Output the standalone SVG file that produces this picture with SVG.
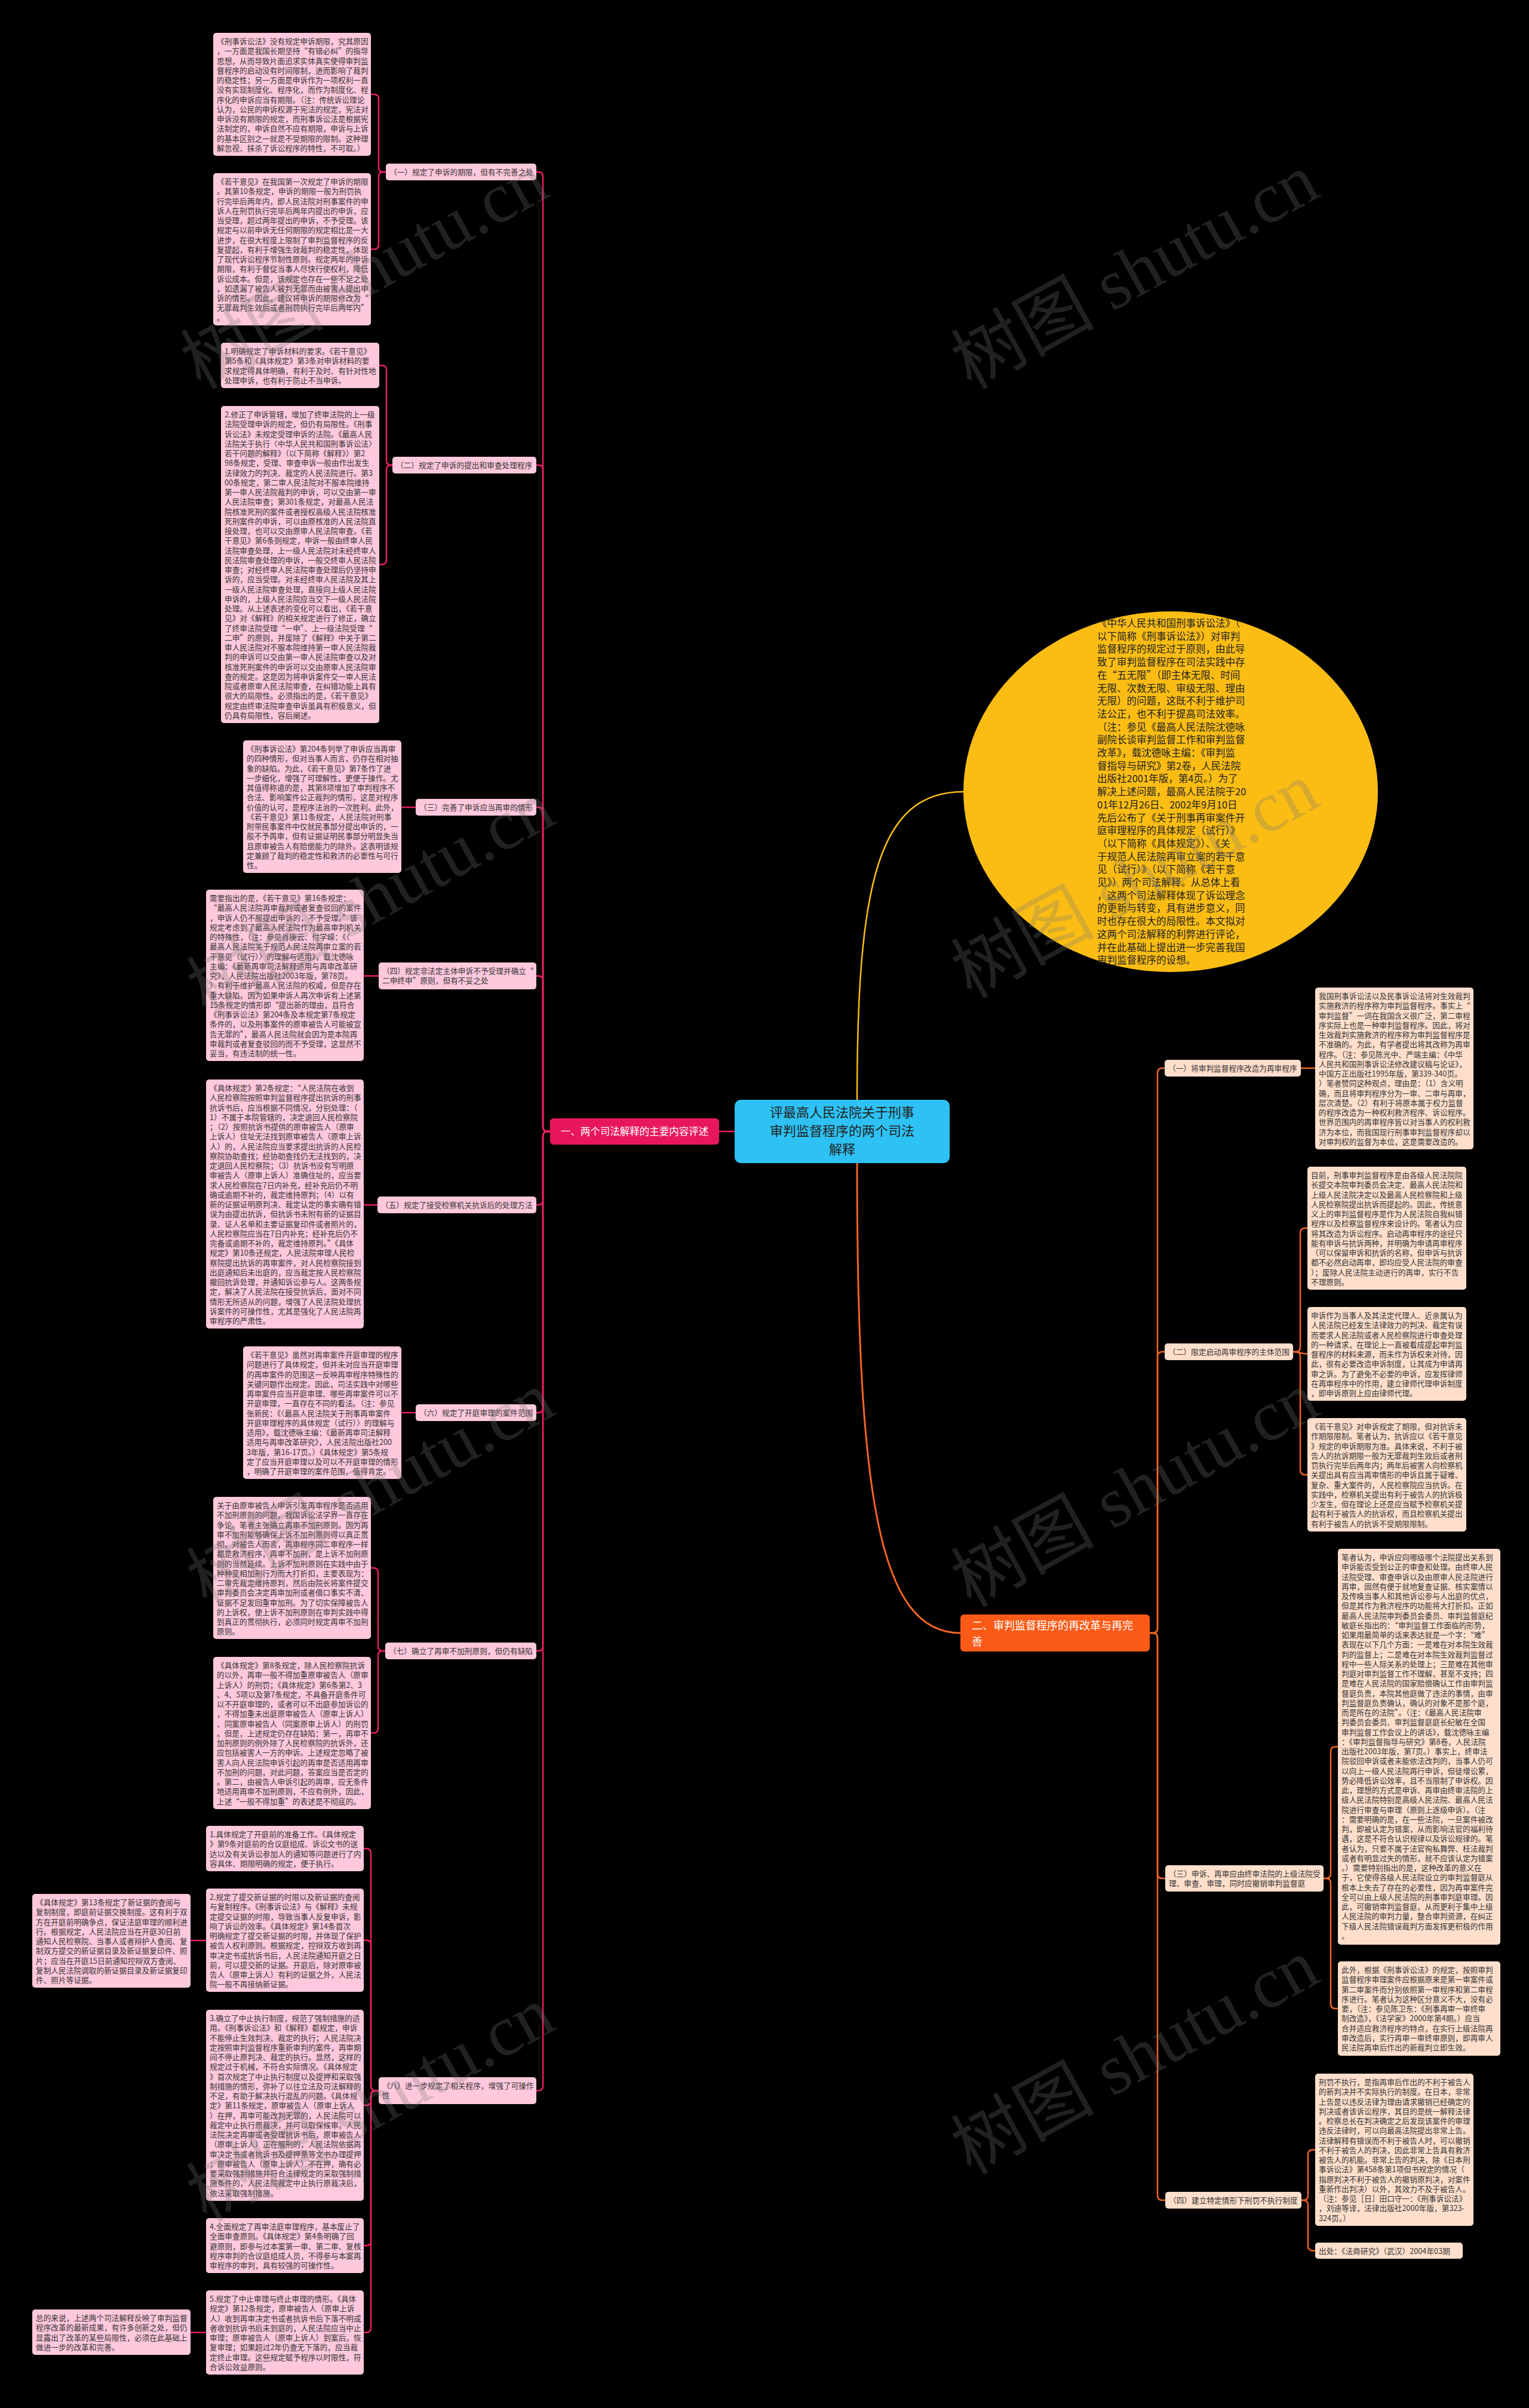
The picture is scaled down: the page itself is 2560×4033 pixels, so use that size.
<svg xmlns="http://www.w3.org/2000/svg" width="2560" height="4033" viewBox="0 0 2560 4033">
<style>
.t{font-family:"Noto Sans CJK SC","Liberation Sans",sans-serif;font-size:12.7px;fill:#333}
.pb{fill:#ffc8dd}
.ob{fill:#ffdfcc}
.pl{stroke:#e91e63;stroke-width:2.5;fill:none}
.ol{stroke:#f26522;stroke-width:2.5;fill:none}
.ct{font-family:"Noto Sans CJK SC","Liberation Sans",sans-serif;font-size:16.5px;fill:#222}
.wm{font-family:"Liberation Serif","Noto Sans CJK SC",serif;font-size:120px;fill:#777;fill-opacity:0.28}
</style>
<rect x="0" y="0" width="2560" height="4033" fill="#000"/>

<g id="connectors">
<path class="pl" d="M1204,1895 H1230"/>
<path d="M1435,1842 C1435,1480 1470,1326 1613,1326" stroke="#fbbd14" stroke-width="2.5" fill="none"/>
<path d="M1435,1948 C1435,2500 1470,2735 1608,2735" stroke="#f26522" stroke-width="3" fill="none"/>
<path class="pl" d="M921,1895 H917 Q909,1895 909,1887 V296 Q909,288 901,288 H898"/>
<path class="pl" d="M921,1895 H917 Q909,1895 909,1887 V787 Q909,779 901,779 H898"/>
<path class="pl" d="M921,1895 H917 Q909,1895 909,1887 V1360 Q909,1352 901,1352 H898"/>
<path class="pl" d="M921,1895 H917 Q909,1895 909,1887 V1642.5 Q909,1634.5 901,1634.5 H898"/>
<path class="pl" d="M921,1895 H917 Q909,1895 909,1903 V2010 Q909,2018 901,2018 H898"/>
<path class="pl" d="M921,1895 H917 Q909,1895 909,1903 V2358 Q909,2366 901,2366 H898"/>
<path class="pl" d="M921,1895 H917 Q909,1895 909,1903 V2757 Q909,2765 901,2765 H898"/>
<path class="pl" d="M921,1895 H917 Q909,1895 909,1903 V3493.5 Q909,3501.5 901,3501.5 H898"/>
<path class="pl" d="M646,288 H642 Q634,288 634,280 V166 Q634,158 626,158 H621"/>
<path class="pl" d="M646,288 H642 Q634,288 634,296 V409.5 Q634,417.5 626,417.5 H621"/>
<path class="pl" d="M657,779 H655 Q647,779 647,771 V620 Q647,612 639,612 H635"/>
<path class="pl" d="M657,779 H655 Q647,779 647,787 V937.5 Q647,945.5 639,945.5 H635"/>
<path class="pl" d="M696,1352 H672"/>
<path class="pl" d="M634,1634.5 H609"/>
<path class="pl" d="M632,2018 H609"/>
<path class="pl" d="M696,2366 H672"/>
<path class="pl" d="M645,2765 H641 Q633,2765 633,2757 V2634 Q633,2626 625,2626 H621"/>
<path class="pl" d="M645,2765 H641 Q633,2765 633,2773 V2894.5 Q633,2902.5 625,2902.5 H621"/>
<path class="pl" d="M634,3501.5 H629 Q621,3501.5 621,3493.5 V3104 Q621,3096 613,3096 H609"/>
<path class="pl" d="M634,3501.5 H629 Q621,3501.5 621,3493.5 V3257.5 Q621,3249.5 613,3249.5 H609"/>
<path class="pl" d="M634,3501.5 H629 Q621,3501.5 621,3509.5 V3518 Q621,3526 613,3526 H609"/>
<path class="pl" d="M634,3501.5 H629 Q621,3501.5 621,3509.5 V3753 Q621,3761 613,3761 H609"/>
<path class="pl" d="M634,3501.5 H629 Q621,3501.5 621,3509.5 V3898.5 Q621,3906.5 613,3906.5 H609"/>
<path class="pl" d="M345,3250 H319"/>
<path class="pl" d="M345,3906.5 H319"/>
<path class="ol" d="M1925,2735 H1930 Q1938,2735 1938,2727 V1797 Q1938,1789 1946,1789 H1950"/>
<path class="ol" d="M1925,2735 H1930 Q1938,2735 1938,2727 V2272 Q1938,2264 1946,2264 H1950"/>
<path class="ol" d="M1925,2735 H1930 Q1938,2735 1938,2743 V3138 Q1938,3146 1946,3146 H1951"/>
<path class="ol" d="M1925,2735 H1930 Q1938,2735 1938,2743 V3677 Q1938,3685 1946,3685 H1951"/>
<path class="ol" d="M2178,1789 H2202"/>
<path class="ol" d="M2165,2264 H2169 Q2177,2264 2177,2256 V2065 Q2177,2057 2185,2057 H2189"/>
<path class="ol" d="M2165,2264 C2177,2264 2177,2267.5 2189,2267.5"/>
<path class="ol" d="M2165,2264 H2169 Q2177,2264 2177,2272 V2462 Q2177,2470 2185,2470 H2189"/>
<path class="ol" d="M2216,3146 H2220 Q2228,3146 2228,3138 V2933.5 Q2228,2925.5 2236,2925.5 H2240"/>
<path class="ol" d="M2216,3146 H2220 Q2228,3146 2228,3154 V3356 Q2228,3364 2236,3364 H2240"/>
<path class="ol" d="M2179,3685 H2182 Q2190,3685 2190,3677 V3608.5 Q2190,3600.5 2198,3600.5 H2202"/>
<path class="ol" d="M2179,3685 H2182 Q2190,3685 2190,3693 V3761.5 Q2190,3769.5 2198,3769.5 H2202"/>
</g>

<g id="root">
<rect x="1230" y="1842" width="360" height="106" rx="10" fill="#2dc2f3"/>
<text font-family="Noto Sans CJK SC,Liberation Sans,sans-serif" font-size="22" fill="#222" text-anchor="middle"><tspan x="1410" y="1871">评最高人民法院关于刑事</tspan><tspan x="1410" y="1902">审判监督程序的两个司法</tspan><tspan x="1410" y="1933">解释</tspan></text>
</g>

<g id="summary">
<ellipse cx="1960" cy="1326" rx="347" ry="302" fill="#fbbd14"/>
<text class="ct"><tspan x="1837" y="1050">《中华人民共和国刑事诉讼法》（</tspan><tspan x="1837" dy="21.7">以下简称《刑事诉讼法》）对审判</tspan><tspan x="1837" dy="21.7">监督程序的规定过于原则，由此导</tspan><tspan x="1837" dy="21.7">致了审判监督程序在司法实践中存</tspan><tspan x="1837" dy="21.7">在“五无限”（即主体无限、时间</tspan><tspan x="1837" dy="21.7">无限、次数无限、审级无限、理由</tspan><tspan x="1837" dy="21.7">无限）的问题，这既不利于维护司</tspan><tspan x="1837" dy="21.7">法公正，也不利于提高司法效率。</tspan><tspan x="1837" dy="21.7">（注：参见《最高人民法院沈德咏</tspan><tspan x="1837" dy="21.7">副院长谈审判监督工作和审判监督</tspan><tspan x="1837" dy="21.7">改革》，载沈德咏主编：《审判监</tspan><tspan x="1837" dy="21.7">督指导与研究》第2卷，人民法院</tspan><tspan x="1837" dy="21.7">出版社2001年版，第4页。）为了</tspan><tspan x="1837" dy="21.7">解决上述问题，最高人民法院于20</tspan><tspan x="1837" dy="21.7">01年12月26日、2002年9月10日</tspan><tspan x="1837" dy="21.7">先后公布了《关于刑事再审案件开</tspan><tspan x="1837" dy="21.7">庭审理程序的具体规定（试行）》</tspan><tspan x="1837" dy="21.7">（以下简称《具体规定》）、《关</tspan><tspan x="1837" dy="21.7">于规范人民法院再审立案的若干意</tspan><tspan x="1837" dy="21.7">见（试行）》（以下简称《若干意</tspan><tspan x="1837" dy="21.7">见》）两个司法解释。从总体上看</tspan><tspan x="1837" dy="21.7">，这两个司法解释体现了诉讼理念</tspan><tspan x="1837" dy="21.7">的更新与转变，具有进步意义，同</tspan><tspan x="1837" dy="21.7">时也存在很大的局限性。本文拟对</tspan><tspan x="1837" dy="21.7">这两个司法解释的利弊进行评论，</tspan><tspan x="1837" dy="21.7">并在此基础上提出进一步完善我国</tspan><tspan x="1837" dy="21.7">审判监督程序的设想。</tspan></text>
</g>

<g id="branch1">
<rect x="921" y="1873" width="283" height="44" rx="6" fill="#e8175d"/>
<text font-family="Noto Sans CJK SC,Liberation Sans,sans-serif" font-size="16.5" fill="#fff" text-anchor="middle" x="1062.5" y="1901">一、两个司法解释的主要内容评述</text>
</g>

<g id="branch2">
<rect x="1608" y="2704" width="317" height="62" rx="6" fill="#fb5a17"/>
<text font-family="Noto Sans CJK SC,Liberation Sans,sans-serif" font-size="18" fill="#fff"><tspan x="1627" y="2729">二、审判监督程序的再改革与再完</tspan><tspan x="1627" y="2756">善</tspan></text>
</g>

<g id="l1"><rect class="pb" x="646" y="274" width="252" height="28" rx="5"/><text class="t" x="652" y="293">（一）规定了申诉的期限，但有不完善之处</text></g>
<g id="l2"><rect class="pb" x="657" y="765" width="241" height="28" rx="5"/><text class="t" x="663" y="784">（二）规定了申诉的提出和审查处理程序</text></g>
<g id="l3"><rect class="pb" x="696" y="1338" width="202" height="28" rx="5"/><text class="t" x="702" y="1357">（三）完善了申诉应当再审的情形</text></g>
<g id="l4"><rect class="pb" x="634" y="1612" width="264" height="45" rx="5"/><text class="t"><tspan x="640" y="1631">（四）规定非法定主体申诉不予受理并确立“</tspan><tspan x="640" dy="16.25">二申终申”原则，但有不妥之处</tspan></text></g>
<g id="l5"><rect class="pb" x="632" y="2004" width="266" height="28" rx="5"/><text class="t" x="638" y="2023">（五）规定了接受检察机关抗诉后的处理方法</text></g>
<g id="l6"><rect class="pb" x="696" y="2352" width="202" height="28" rx="5"/><text class="t" x="702" y="2371">（六）规定了开庭审理的案件范围</text></g>
<g id="l7"><rect class="pb" x="645" y="2751" width="253" height="28" rx="5"/><text class="t" x="651" y="2770">（七）确立了再审不加刑原则，但仍有缺陷</text></g>
<g id="l8"><rect class="pb" x="634" y="3479" width="264" height="45" rx="5"/><text class="t"><tspan x="640" y="3498">（八）进一步规定了相关程序，增强了可操作</tspan><tspan x="640" dy="16.25">性</tspan></text></g>

<g id="nA"><rect class="pb" x="357" y="55" width="264" height="206" rx="5"/><text class="t"><tspan x="363" y="74">《刑事诉讼法》没有规定申诉期限，究其原因</tspan><tspan x="363" dy="16.25">，一方面是我国长期坚持“有错必纠”的指导</tspan><tspan x="363" dy="16.25">思想，从而导致片面追求实体真实使得审判监</tspan><tspan x="363" dy="16.25">督程序的启动没有时间限制，进而影响了裁判</tspan><tspan x="363" dy="16.25">的稳定性；另一方面是申诉作为一项权利一直</tspan><tspan x="363" dy="16.25">没有实现制度化、程序化，而作为制度化、程</tspan><tspan x="363" dy="16.25">序化的申诉应当有期限。（注：传统诉讼理论</tspan><tspan x="363" dy="16.25">认为，公民的申诉权源于宪法的规定，宪法对</tspan><tspan x="363" dy="16.25">申诉没有期限的规定，而刑事诉讼法是根据宪</tspan><tspan x="363" dy="16.25">法制定的，申诉自然不应有期限，申诉与上诉</tspan><tspan x="363" dy="16.25">的基本区别之一就是不受期限的限制。这种理</tspan><tspan x="363" dy="16.25">解忽视、抹杀了诉讼程序的特性，不可取。）</tspan></text></g>

<g id="nB"><rect class="pb" x="357" y="290" width="264" height="255" rx="5"/><text class="t"><tspan x="363" y="309">《若干意见》在我国第一次规定了申诉的期限</tspan><tspan x="363" dy="16.25">。其第10条规定，申诉的期限一般为刑罚执</tspan><tspan x="363" dy="16.25">行完毕后两年内，即人民法院对刑事案件的申</tspan><tspan x="363" dy="16.25">诉人在刑罚执行完毕后两年内提出的申诉，应</tspan><tspan x="363" dy="16.25">当受理，超过两年提出的申诉，不予受理。该</tspan><tspan x="363" dy="16.25">规定与以前申诉无任何期限的规定相比是一大</tspan><tspan x="363" dy="16.25">进步，在很大程度上限制了审判监督程序的反</tspan><tspan x="363" dy="16.25">复提起，有利于增强生效裁判的稳定性，体现</tspan><tspan x="363" dy="16.25">了现代诉讼程序节制性原则。规定两年的申诉</tspan><tspan x="363" dy="16.25">期限，有利于督促当事人尽快行使权利，降低</tspan><tspan x="363" dy="16.25">诉讼成本。但是，该规定也存在一些不足之处</tspan><tspan x="363" dy="16.25">，如遗漏了被告人被判无罪而由被害人提出申</tspan><tspan x="363" dy="16.25">诉的情形。因此，建议将申诉的期限修改为“</tspan><tspan x="363" dy="16.25">无罪裁判生效后或者刑罚执行完毕后两年内”</tspan><tspan x="363" dy="16.25">。</tspan></text></g>

<g id="nC"><rect class="pb" x="370" y="574" width="265" height="76" rx="5"/><text class="t"><tspan x="376" y="593">1.明确规定了申诉材料的要求。《若干意见》</tspan><tspan x="376" dy="16.25">第5条和《具体规定》第3条对申诉材料的要</tspan><tspan x="376" dy="16.25">求规定得具体明确，有利于及时、有针对性地</tspan><tspan x="376" dy="16.25">处理申诉，也有利于防止不当申诉。</tspan></text></g>

<g id="nD"><rect class="pb" x="370" y="680" width="265" height="531" rx="5"/><text class="t"><tspan x="376" y="699">2.修正了申诉管辖，增加了终审法院的上一级</tspan><tspan x="376" dy="16.25">法院受理申诉的规定，但仍有局限性。《刑事</tspan><tspan x="376" dy="16.25">诉讼法》未规定受理申诉的法院。《最高人民</tspan><tspan x="376" dy="16.25">法院关于执行〈中华人民共和国刑事诉讼法〉</tspan><tspan x="376" dy="16.25">若干问题的解释》（以下简称《解释》）第2</tspan><tspan x="376" dy="16.25">98条规定，受理、审查申诉一般由作出发生</tspan><tspan x="376" dy="16.25">法律效力的判决、裁定的人民法院进行。第3</tspan><tspan x="376" dy="16.25">00条规定，第二审人民法院对不服本院维持</tspan><tspan x="376" dy="16.25">第一审人民法院裁判的申诉，可以交由第一审</tspan><tspan x="376" dy="16.25">人民法院审查；第301条规定，对最高人民法</tspan><tspan x="376" dy="16.25">院核准死刑的案件或者授权高级人民法院核准</tspan><tspan x="376" dy="16.25">死刑案件的申诉，可以由原核准的人民法院直</tspan><tspan x="376" dy="16.25">接处理，也可以交由原审人民法院审查。《若</tspan><tspan x="376" dy="16.25">干意见》第6条则规定，申诉一般由终审人民</tspan><tspan x="376" dy="16.25">法院审查处理，上一级人民法院对未经终审人</tspan><tspan x="376" dy="16.25">民法院审查处理的申诉，一般交终审人民法院</tspan><tspan x="376" dy="16.25">审查；对经终审人民法院审查处理后仍坚持申</tspan><tspan x="376" dy="16.25">诉的，应当受理。对未经终审人民法院及其上</tspan><tspan x="376" dy="16.25">一级人民法院审查处理，直接向上级人民法院</tspan><tspan x="376" dy="16.25">申诉的，上级人民法院应当交下一级人民法院</tspan><tspan x="376" dy="16.25">处理。从上述表述的变化可以看出，《若干意</tspan><tspan x="376" dy="16.25">见》对《解释》的相关规定进行了修正，确立</tspan><tspan x="376" dy="16.25">了终审法院受理“一申”、上一级法院受理“</tspan><tspan x="376" dy="16.25">二申”的原则，并废除了《解释》中关于第二</tspan><tspan x="376" dy="16.25">审人民法院对不服本院维持第一审人民法院裁</tspan><tspan x="376" dy="16.25">判的申诉可以交由第一审人民法院审查以及对</tspan><tspan x="376" dy="16.25">核准死刑案件的申诉可以交由原审人民法院审</tspan><tspan x="376" dy="16.25">查的规定。这是因为将申诉案件交一审人民法</tspan><tspan x="376" dy="16.25">院或者原审人民法院审查，在纠错功能上具有</tspan><tspan x="376" dy="16.25">很大的局限性。必须指出的是，《若干意见》</tspan><tspan x="376" dy="16.25">规定由终审法院审查申诉虽具有积极意义，但</tspan><tspan x="376" dy="16.25">仍具有局限性，容后阐述。</tspan></text></g>

<g id="nE"><rect class="pb" x="407" y="1240" width="265" height="222" rx="5"/><text class="t"><tspan x="413" y="1259">《刑事诉讼法》第204条列举了申诉应当再审</tspan><tspan x="413" dy="16.25">的四种情形，但对当事人而言，仍存在相对抽</tspan><tspan x="413" dy="16.25">象的缺陷。为此，《若干意见》第7条作了进</tspan><tspan x="413" dy="16.25">一步细化，增强了可理解性，更便于操作。尤</tspan><tspan x="413" dy="16.25">其值得称道的是，其第8项增加了审判程序不</tspan><tspan x="413" dy="16.25">合法、影响案件公正裁判的情形，这是对程序</tspan><tspan x="413" dy="16.25">价值的认可，是程序法治的一次胜利。此外，</tspan><tspan x="413" dy="16.25">《若干意见》第11条规定，人民法院对刑事</tspan><tspan x="413" dy="16.25">附带民事案件中仅就民事部分提出申诉的，一</tspan><tspan x="413" dy="16.25">般不予再审，但有证据证明民事部分明显失当</tspan><tspan x="413" dy="16.25">且原审被告人有赔偿能力的除外。这表明该规</tspan><tspan x="413" dy="16.25">定兼顾了裁判的稳定性和救济的必要性与可行</tspan><tspan x="413" dy="16.25">性。</tspan></text></g>

<g id="nF"><rect class="pb" x="345" y="1490" width="264" height="287" rx="5"/><text class="t"><tspan x="351" y="1509">需要指出的是，《若干意见》第16条规定：</tspan><tspan x="351" dy="16.25">“最高人民法院再审裁判或者复查驳回的案件</tspan><tspan x="351" dy="16.25">，申诉人仍不服提出申诉的，不予受理。”该</tspan><tspan x="351" dy="16.25">规定考虑到了最高人民法院作为最高审判机关</tspan><tspan x="351" dy="16.25">的特殊性，（注：参见肖庚云、付学嵘：《〈</tspan><tspan x="351" dy="16.25">最高人民法院关于规范人民法院再审立案的若</tspan><tspan x="351" dy="16.25">干意见（试行）〉的理解与适用》，载沈德咏</tspan><tspan x="351" dy="16.25">主编：《最新再审司法解释适用与再审改革研</tspan><tspan x="351" dy="16.25">究》，人民法院出版社2003年版，第78页。</tspan><tspan x="351" dy="16.25">）有利于维护最高人民法院的权威，但是存在</tspan><tspan x="351" dy="16.25">重大缺陷。因为如果申诉人再次申诉有上述第</tspan><tspan x="351" dy="16.25">15条规定的情形即“提出新的理由，且符合</tspan><tspan x="351" dy="16.25">《刑事诉讼法》第204条及本规定第7条规定</tspan><tspan x="351" dy="16.25">条件的，以及刑事案件的原审被告人可能被宣</tspan><tspan x="351" dy="16.25">告无罪的”，最高人民法院就会因为是本院再</tspan><tspan x="351" dy="16.25">审裁判或者复查驳回的而不予受理，这显然不</tspan><tspan x="351" dy="16.25">妥当，有违法制的统一性。</tspan></text></g>

<g id="nG"><rect class="pb" x="345" y="1808" width="264" height="417" rx="5"/><text class="t"><tspan x="351" y="1827">《具体规定》第2条规定：“人民法院在收到</tspan><tspan x="351" dy="16.25">人民检察院按照审判监督程序提出抗诉的刑事</tspan><tspan x="351" dy="16.25">抗诉书后，应当根据不同情况，分别处理：（</tspan><tspan x="351" dy="16.25">1）不属于本院管辖的，决定退回人民检察院</tspan><tspan x="351" dy="16.25">；（2）按照抗诉书提供的原审被告人（原审</tspan><tspan x="351" dy="16.25">上诉人）住址无法找到原审被告人（原审上诉</tspan><tspan x="351" dy="16.25">人）的，人民法院应当要求提出抗诉的人民检</tspan><tspan x="351" dy="16.25">察院协助查找；经协助查找仍无法找到的，决</tspan><tspan x="351" dy="16.25">定退回人民检察院；（3）抗诉书没有写明原</tspan><tspan x="351" dy="16.25">审被告人（原审上诉人）准确住址的，应当要</tspan><tspan x="351" dy="16.25">求人民检察院在7日内补充，经补充后仍不明</tspan><tspan x="351" dy="16.25">确或逾期不补的，裁定维持原判；（4）以有</tspan><tspan x="351" dy="16.25">新的证据证明原判决、裁定认定的事实确有错</tspan><tspan x="351" dy="16.25">误为由提出抗诉，但抗诉书未附有新的证据目</tspan><tspan x="351" dy="16.25">录、证人名单和主要证据复印件或者照片的，</tspan><tspan x="351" dy="16.25">人民检察院应当在7日内补充；经补充后仍不</tspan><tspan x="351" dy="16.25">完备或逾期不补的，裁定维持原判。”《具体</tspan><tspan x="351" dy="16.25">规定》第10条还规定，人民法院审理人民检</tspan><tspan x="351" dy="16.25">察院提出抗诉的再审案件，对人民检察院接到</tspan><tspan x="351" dy="16.25">出庭通知后未出庭的，应当裁定按人民检察院</tspan><tspan x="351" dy="16.25">撤回抗诉处理，并通知诉讼参与人。这两条规</tspan><tspan x="351" dy="16.25">定，解决了人民法院在接受抗诉后，面对不同</tspan><tspan x="351" dy="16.25">情形无所适从的问题，增强了人民法院处理抗</tspan><tspan x="351" dy="16.25">诉案件的可操作性，尤其是强化了人民法院再</tspan><tspan x="351" dy="16.25">审程序的严肃性。</tspan></text></g>

<g id="nH"><rect class="pb" x="407" y="2255" width="265" height="222" rx="5"/><text class="t"><tspan x="413" y="2274">《若干意见》虽然对再审案件开庭审理的程序</tspan><tspan x="413" dy="16.25">问题进行了具体规定，但并未对应当开庭审理</tspan><tspan x="413" dy="16.25">的再审案件的范围这一反映再审程序特殊性的</tspan><tspan x="413" dy="16.25">关键问题作出规定。因此，司法实践中对哪些</tspan><tspan x="413" dy="16.25">再审案件应当开庭审理、哪些再审案件可以不</tspan><tspan x="413" dy="16.25">开庭审理，一直存在不同的看法。（注：参见</tspan><tspan x="413" dy="16.25">张新民：《〈最高人民法院关于刑事再审案件</tspan><tspan x="413" dy="16.25">开庭审理程序的具体规定（试行）〉的理解与</tspan><tspan x="413" dy="16.25">适用》，载沈德咏主编：《最新再审司法解释</tspan><tspan x="413" dy="16.25">适用与再审改革研究》，人民法院出版社200</tspan><tspan x="413" dy="16.25">3年版，第16-17页。）《具体规定》第5条规</tspan><tspan x="413" dy="16.25">定了应当开庭审理以及可以不开庭审理的情形</tspan><tspan x="413" dy="16.25">，明确了开庭审理的案件范围，值得肯定。</tspan></text></g>

<g id="nI"><rect class="pb" x="357" y="2507" width="264" height="238" rx="5"/><text class="t"><tspan x="363" y="2526">关于由原审被告人申诉引发再审程序是否适用</tspan><tspan x="363" dy="16.25">不加刑原则的问题，我国诉讼法学界一直存在</tspan><tspan x="363" dy="16.25">争论。笔者主张确立再审不加刑原则。因为再</tspan><tspan x="363" dy="16.25">审不加刑能够确保上诉不加刑原则得以真正贯</tspan><tspan x="363" dy="16.25">彻。对被告人而言，再审程序同二审程序一样</tspan><tspan x="363" dy="16.25">都是救济程序，再审不加刑，是上诉不加刑原</tspan><tspan x="363" dy="16.25">则的当然延续。上诉不加刑原则在实践中由于</tspan><tspan x="363" dy="16.25">种种变相加刑行为而大打折扣，主要表现为：</tspan><tspan x="363" dy="16.25">二审先裁定维持原判，然后由院长将案件提交</tspan><tspan x="363" dy="16.25">审判委员会决定再审加刑或者借口事实不清、</tspan><tspan x="363" dy="16.25">证据不足发回重审加刑。为了切实保障被告人</tspan><tspan x="363" dy="16.25">的上诉权，使上诉不加刑原则在审判实践中得</tspan><tspan x="363" dy="16.25">到真正的贯彻执行，必须同时规定再审不加刑</tspan><tspan x="363" dy="16.25">原则。</tspan></text></g>

<g id="nJ"><rect class="pb" x="357" y="2775" width="264" height="255" rx="5"/><text class="t"><tspan x="363" y="2794">《具体规定》第8条规定，除人民检察院抗诉</tspan><tspan x="363" dy="16.25">的以外，再审一般不得加重原审被告人（原审</tspan><tspan x="363" dy="16.25">上诉人）的刑罚；《具体规定》第6条第2、3</tspan><tspan x="363" dy="16.25">、4、5项以及第7条规定，不具备开庭条件可</tspan><tspan x="363" dy="16.25">以不开庭审理的，或者可以不出庭参加诉讼的</tspan><tspan x="363" dy="16.25">，不得加重未出庭原审被告人（原审上诉人）</tspan><tspan x="363" dy="16.25">、同案原审被告人（同案原审上诉人）的刑罚</tspan><tspan x="363" dy="16.25">。但是，上述规定仍存在缺陷：第一，再审不</tspan><tspan x="363" dy="16.25">加刑原则的例外除了人民检察院的抗诉外，还</tspan><tspan x="363" dy="16.25">应包括被害人一方的申诉。上述规定忽略了被</tspan><tspan x="363" dy="16.25">害人向人民法院申诉引起的再审是否适用再审</tspan><tspan x="363" dy="16.25">不加刑的问题，对此问题，答案应当是否定的</tspan><tspan x="363" dy="16.25">。第二，由被告人申诉引起的再审，应无条件</tspan><tspan x="363" dy="16.25">地适用再审不加刑原则，不应有例外，因此，</tspan><tspan x="363" dy="16.25">上述“一般不得加重”的表述是不彻底的。</tspan></text></g>

<g id="nK"><rect class="pb" x="345" y="3058" width="264" height="76" rx="5"/><text class="t"><tspan x="351" y="3077">1.具体规定了开庭前的准备工作。《具体规定</tspan><tspan x="351" dy="16.25">》第9条对庭前的合议庭组成、诉讼文书的送</tspan><tspan x="351" dy="16.25">达以及有关诉讼参加人的通知等问题进行了内</tspan><tspan x="351" dy="16.25">容具体、期限明确的规定，便于执行。</tspan></text></g>

<g id="nL"><rect class="pb" x="345" y="3163" width="264" height="173" rx="5"/><text class="t"><tspan x="351" y="3182">2.规定了提交新证据的时限以及新证据的查阅</tspan><tspan x="351" dy="16.25">与复制程序。《刑事诉讼法》与《解释》未规</tspan><tspan x="351" dy="16.25">定提交证据的时限，导致当事人反复申诉，影</tspan><tspan x="351" dy="16.25">响了诉讼的效率。《具体规定》第14条首次</tspan><tspan x="351" dy="16.25">明确规定了提交新证据的时限，并体现了保护</tspan><tspan x="351" dy="16.25">被告人权利原则。根据规定，控辩双方收到再</tspan><tspan x="351" dy="16.25">审决定书或抗诉书后，人民法院通知开庭之日</tspan><tspan x="351" dy="16.25">前，可以提交新的证据。开庭后，除对原审被</tspan><tspan x="351" dy="16.25">告人（原审上诉人）有利的证据之外，人民法</tspan><tspan x="351" dy="16.25">院一般不再接纳新证据。</tspan></text></g>

<g id="nP"><rect class="pb" x="54" y="3172" width="265" height="157" rx="5"/><text class="t"><tspan x="60" y="3191">《具体规定》第13条规定了新证据的查阅与</tspan><tspan x="60" dy="16.25">复制制度，即庭前证据交换制度。这有利于双</tspan><tspan x="60" dy="16.25">方在开庭前明确争点，保证法庭审理的顺利进</tspan><tspan x="60" dy="16.25">行。根据规定，人民法院应当在开庭30日前</tspan><tspan x="60" dy="16.25">通知人民检察院、当事人或者辩护人查阅、复</tspan><tspan x="60" dy="16.25">制双方提交的新证据目录及新证据复印件、照</tspan><tspan x="60" dy="16.25">片；应当在开庭15日前通知控辩双方查阅、</tspan><tspan x="60" dy="16.25">复制人民法院调取的新证据目录及新证据复印</tspan><tspan x="60" dy="16.25">件、照片等证据。</tspan></text></g>

<g id="nM"><rect class="pb" x="345" y="3366" width="264" height="320" rx="5"/><text class="t"><tspan x="351" y="3385">3.确立了中止执行制度，规范了强制措施的适</tspan><tspan x="351" dy="16.25">用。《刑事诉讼法》和《解释》都规定，申诉</tspan><tspan x="351" dy="16.25">不能停止生效判决、裁定的执行；人民法院决</tspan><tspan x="351" dy="16.25">定按照审判监督程序重新审判的案件，再审期</tspan><tspan x="351" dy="16.25">间不停止原判决、裁定的执行。显然，这样的</tspan><tspan x="351" dy="16.25">规定过于机械，不符合实际情况。《具体规定</tspan><tspan x="351" dy="16.25">》首次规定了中止执行制度以及提押和采取强</tspan><tspan x="351" dy="16.25">制措施的情形，弥补了以往立法及司法解释的</tspan><tspan x="351" dy="16.25">不足，有助于解决执行混乱的问题。《具体规</tspan><tspan x="351" dy="16.25">定》第11条规定，原审被告人（原审上诉人</tspan><tspan x="351" dy="16.25">）在押，再审可能改判无罪的，人民法院可以</tspan><tspan x="351" dy="16.25">裁定中止执行原裁决，并可以取保候审。人民</tspan><tspan x="351" dy="16.25">法院决定再审或者受理抗诉书后，原审被告人</tspan><tspan x="351" dy="16.25">（原审上诉人）正在服刑的，人民法院依据再</tspan><tspan x="351" dy="16.25">审决定书或者抗诉书及提押票等文书办理提押</tspan><tspan x="351" dy="16.25">；原审被告人（原审上诉人）不在押，确有必</tspan><tspan x="351" dy="16.25">要采取强制措施并符合法律规定的采取强制措</tspan><tspan x="351" dy="16.25">施条件的，人民法院裁定中止执行原裁决后，</tspan><tspan x="351" dy="16.25">依法采取强制措施。</tspan></text></g>

<g id="nN"><rect class="pb" x="345" y="3715" width="264" height="92" rx="5"/><text class="t"><tspan x="351" y="3734">4.全面规定了再审法庭审理程序，基本废止了</tspan><tspan x="351" dy="16.25">全面审查原则。《具体规定》第4条明确了回</tspan><tspan x="351" dy="16.25">避原则，即参与过本案第一审、第二审、复核</tspan><tspan x="351" dy="16.25">程序审判的合议庭组成人员，不得参与本案再</tspan><tspan x="351" dy="16.25">审程序的审判，具有较强的可操作性。</tspan></text></g>

<g id="nO"><rect class="pb" x="345" y="3836" width="264" height="141" rx="5"/><text class="t"><tspan x="351" y="3855">5.规定了中止审理与终止审理的情形。《具体</tspan><tspan x="351" dy="16.25">规定》第12条规定，原审被告人（原审上诉</tspan><tspan x="351" dy="16.25">人）收到再审决定书或者抗诉书后下落不明或</tspan><tspan x="351" dy="16.25">者收到抗诉书后未到庭的，人民法院应当中止</tspan><tspan x="351" dy="16.25">审理；原审被告人（原审上诉人）到案后，恢</tspan><tspan x="351" dy="16.25">复审理；如果超过2年仍查无下落的，应当裁</tspan><tspan x="351" dy="16.25">定终止审理。这些规定赋予程序以时限性，符</tspan><tspan x="351" dy="16.25">合诉讼效益原则。</tspan></text></g>

<g id="nQ"><rect class="pb" x="54" y="3868" width="265" height="76" rx="5"/><text class="t"><tspan x="60" y="3887">总的来说，上述两个司法解释反映了审判监督</tspan><tspan x="60" dy="16.25">程序改革的最新成果，有许多创新之处，但仍</tspan><tspan x="60" dy="16.25">显露出了改革的某些局限性，必须在此基础上</tspan><tspan x="60" dy="16.25">做进一步的改革和完善。</tspan></text></g>

<g id="r1"><rect class="ob" x="1950" y="1775" width="228" height="28" rx="5"/><text class="t" x="1956" y="1794">（一）将审判监督程序改造为再审程序</text></g>
<g id="r2"><rect class="ob" x="1950" y="2250" width="215" height="28" rx="5"/><text class="t" x="1956" y="2269">（二）限定启动再审程序的主体范围</text></g>
<g id="r3"><rect class="ob" x="1951" y="3124" width="265" height="44" rx="5"/><text class="t"><tspan x="1957" y="3143">（三）申诉、再审应由终审法院的上级法院受</tspan><tspan x="1957" dy="16.25">理、审查、审理，同时应撤销审判监督庭</tspan></text></g>
<g id="r4"><rect class="ob" x="1951" y="3671" width="228" height="28" rx="5"/><text class="t" x="1957" y="3690">（四）建立特定情形下刑罚不执行制度</text></g>

<g id="nR"><rect class="ob" x="2202" y="1654" width="265" height="271" rx="5"/><text class="t"><tspan x="2208" y="1673">我国刑事诉讼法以及民事诉讼法将对生效裁判</tspan><tspan x="2208" dy="16.25">实施救济的程序称为审判监督程序。事实上“</tspan><tspan x="2208" dy="16.25">审判监督”一词在我国含义很广泛，第二审程</tspan><tspan x="2208" dy="16.25">序实际上也是一种审判监督程序。因此，将对</tspan><tspan x="2208" dy="16.25">生效裁判实施救济的程序称为审判监督程序是</tspan><tspan x="2208" dy="16.25">不准确的。为此，有学者提出将其改称为再审</tspan><tspan x="2208" dy="16.25">程序。（注：参见陈光中、严端主编：《中华</tspan><tspan x="2208" dy="16.25">人民共和国刑事诉讼法修改建议稿与论证》，</tspan><tspan x="2208" dy="16.25">中国方正出版社1995年版，第339-340页。</tspan><tspan x="2208" dy="16.25">）笔者赞同这种观点，理由是：（1）含义明</tspan><tspan x="2208" dy="16.25">确，而且将审判程序分为一审、二审与再审，</tspan><tspan x="2208" dy="16.25">层次清楚。（2）有利于将原本属于权力监督</tspan><tspan x="2208" dy="16.25">的程序改造为一种权利救济程序、诉讼程序。</tspan><tspan x="2208" dy="16.25">世界范围内的再审程序皆以对当事人的权利救</tspan><tspan x="2208" dy="16.25">济为本位，而我国现行刑事审判监督程序却以</tspan><tspan x="2208" dy="16.25">对审判权的监督为本位，这是需要改造的。</tspan></text></g>

<g id="nS"><rect class="ob" x="2189" y="1954" width="266" height="206" rx="5"/><text class="t"><tspan x="2195" y="1973">目前，刑事审判监督程序是由各级人民法院院</tspan><tspan x="2195" dy="16.25">长提交本院审判委员会决定、最高人民法院和</tspan><tspan x="2195" dy="16.25">上级人民法院决定以及最高人民检察院和上级</tspan><tspan x="2195" dy="16.25">人民检察院提出抗诉而提起的。因此，传统意</tspan><tspan x="2195" dy="16.25">义上的审判监督程序是作为人民法院自我纠错</tspan><tspan x="2195" dy="16.25">程序以及检察监督程序来设计的。笔者认为应</tspan><tspan x="2195" dy="16.25">将其改造为诉讼程序。启动再审程序的途径只</tspan><tspan x="2195" dy="16.25">能有申诉与抗诉两种，并明确为申请再审程序</tspan><tspan x="2195" dy="16.25">（可以保留申诉和抗诉的名称，但申诉与抗诉</tspan><tspan x="2195" dy="16.25">都不必然启动再审，即均应受人民法院的审查</tspan><tspan x="2195" dy="16.25">）；废除人民法院主动进行的再审，实行不告</tspan><tspan x="2195" dy="16.25">不理原则。</tspan></text></g>

<g id="nT"><rect class="ob" x="2189" y="2189" width="266" height="157" rx="5"/><text class="t"><tspan x="2195" y="2208">申诉作为当事人及其法定代理人、近亲属认为</tspan><tspan x="2195" dy="16.25">人民法院已经发生法律效力的判决、裁定有误</tspan><tspan x="2195" dy="16.25">而要求人民法院或者人民检察院进行审查处理</tspan><tspan x="2195" dy="16.25">的一种请求，在理论上一直被看成提起审判监</tspan><tspan x="2195" dy="16.25">督程序的材料来源，而未作为诉权来对待，因</tspan><tspan x="2195" dy="16.25">此，很有必要改造申诉制度，让其成为申请再</tspan><tspan x="2195" dy="16.25">审之诉。为了避免不必要的申诉，应发挥律师</tspan><tspan x="2195" dy="16.25">在再审程序中的作用，建立律师代理申诉制度</tspan><tspan x="2195" dy="16.25">，即申诉原则上应由律师代理。</tspan></text></g>

<g id="nU"><rect class="ob" x="2189" y="2375" width="266" height="190" rx="5"/><text class="t"><tspan x="2195" y="2394">《若干意见》对申诉规定了期限，但对抗诉未</tspan><tspan x="2195" dy="16.25">作期限限制。笔者认为，抗诉应以《若干意见</tspan><tspan x="2195" dy="16.25">》规定的申诉期限为准。具体来说，不利于被</tspan><tspan x="2195" dy="16.25">告人的抗诉期限一般为无罪裁判生效后或者刑</tspan><tspan x="2195" dy="16.25">罚执行完毕后两年内；两年后被害人向检察机</tspan><tspan x="2195" dy="16.25">关提出具有应当再审情形的申诉且属于疑难、</tspan><tspan x="2195" dy="16.25">复杂、重大案件的，人民检察院应当抗诉。在</tspan><tspan x="2195" dy="16.25">实践中，检察机关提出有利于被告人的抗诉极</tspan><tspan x="2195" dy="16.25">少发生，但在理论上还是应当赋予检察机关提</tspan><tspan x="2195" dy="16.25">起有利于被告人的抗诉权，而且检察机关提出</tspan><tspan x="2195" dy="16.25">有利于被告人的抗诉不受期限限制。</tspan></text></g>

<g id="nV"><rect class="ob" x="2240" y="2594" width="272" height="663" rx="5"/><text class="t"><tspan x="2246" y="2613">笔者认为，申诉应向哪级哪个法院提出关系到</tspan><tspan x="2246" dy="16.25">申诉能否受到公正的审查和处理。由终审人民</tspan><tspan x="2246" dy="16.25">法院受理、审查申诉以及由原审人民法院进行</tspan><tspan x="2246" dy="16.25">再审，固然有便于就地复查证据、核实案情以</tspan><tspan x="2246" dy="16.25">及传唤当事人和其他诉讼参与人出庭的优点，</tspan><tspan x="2246" dy="16.25">但是其作为救济程序的功能将大打折扣。正如</tspan><tspan x="2246" dy="16.25">最高人民法院审判委员会委员、审判监督庭纪</tspan><tspan x="2246" dy="16.25">敏庭长指出的：“审判监督工作面临的形势，</tspan><tspan x="2246" dy="16.25">如果用最简单的话来表达就是一个字：“难”</tspan><tspan x="2246" dy="16.25">表现在以下几个方面：一是难在对本院生效裁</tspan><tspan x="2246" dy="16.25">判的监督上；二是难在对本院生效裁判监督过</tspan><tspan x="2246" dy="16.25">程中一些人际关系的处理上；三是难在其他审</tspan><tspan x="2246" dy="16.25">判庭对审判监督工作不理解，甚至不支持；四</tspan><tspan x="2246" dy="16.25">是难在人民法院的国家赔偿确认工作由审判监</tspan><tspan x="2246" dy="16.25">督庭负责，本院其他庭做了违法的事情，由审</tspan><tspan x="2246" dy="16.25">判监督庭负责确认，确认的对象不是那个庭，</tspan><tspan x="2246" dy="16.25">而是所在的法院”。（注：《最高人民法院审</tspan><tspan x="2246" dy="16.25">判委员会委员、审判监督庭庭长纪敏在全国</tspan><tspan x="2246" dy="16.25">审判监督工作会议上的讲话》，载沈德咏主编</tspan><tspan x="2246" dy="16.25">：《审判监督指导与研究》第8卷，人民法院</tspan><tspan x="2246" dy="16.25">出版社2003年版，第7页。）事实上，终审法</tspan><tspan x="2246" dy="16.25">院驳回申诉或者未能依法改判的，当事人仍可</tspan><tspan x="2246" dy="16.25">以向上一级人民法院再行申诉，但徒增讼累，</tspan><tspan x="2246" dy="16.25">势必降低诉讼效率，且不当限制了申诉权。因</tspan><tspan x="2246" dy="16.25">此，理想的方式是申诉、再审由终审法院的上</tspan><tspan x="2246" dy="16.25">级人民法院特别是高级人民法院、最高人民法</tspan><tspan x="2246" dy="16.25">院进行审查与审理（原则上逐级申诉）。（注</tspan><tspan x="2246" dy="16.25">：需要明确的是，在一些法院，一旦案件被改</tspan><tspan x="2246" dy="16.25">判，即被认定为错案，从而影响法官的福利待</tspan><tspan x="2246" dy="16.25">遇，这是不符合认识规律以及诉讼规律的。笔</tspan><tspan x="2246" dy="16.25">者认为，只要不属于法官徇私舞弊、枉法裁判</tspan><tspan x="2246" dy="16.25">或者有明显过失的情形，就不应该认定为错案</tspan><tspan x="2246" dy="16.25">。）需要特别指出的是，这种改革的意义在</tspan><tspan x="2246" dy="16.25">于，它使得各级人民法院设立的审判监督庭从</tspan><tspan x="2246" dy="16.25">根本上失去了存在的必要性，因为再审案件完</tspan><tspan x="2246" dy="16.25">全可以由上级人民法院的刑事审判庭审理。因</tspan><tspan x="2246" dy="16.25">此，可撤销审判监督庭，从而更利于集中上级</tspan><tspan x="2246" dy="16.25">人民法院的审判力量，整合审判资源，在纠正</tspan><tspan x="2246" dy="16.25">下级人民法院错误裁判方面发挥更积极的作用</tspan><tspan x="2246" dy="16.25">。</tspan></text></g>

<g id="nW"><rect class="ob" x="2240" y="3285" width="272" height="158" rx="5"/><text class="t"><tspan x="2246" y="3304">此外，根据《刑事诉讼法》的规定，按照审判</tspan><tspan x="2246" dy="16.25">监督程序审理案件应根据原来是第一审案件或</tspan><tspan x="2246" dy="16.25">第二审案件而分别依照第一审程序和第二审程</tspan><tspan x="2246" dy="16.25">序进行。笔者认为这种区分意义不大，没有必</tspan><tspan x="2246" dy="16.25">要，（注：参见陈卫东：《刑事再审一审终审</tspan><tspan x="2246" dy="16.25">制改造》，《法学家》2000年第4期。）应当</tspan><tspan x="2246" dy="16.25">合并适应救济程序的特点，在实行上级法院再</tspan><tspan x="2246" dy="16.25">审改造后，实行再审一审终审原则，即再审人</tspan><tspan x="2246" dy="16.25">民法院再审后作出的新裁判立即生效。</tspan></text></g>

<g id="nX"><rect class="ob" x="2202" y="3473" width="265" height="255" rx="5"/><text class="t"><tspan x="2208" y="3492">刑罚不执行，是指再审后作出的不利于被告人</tspan><tspan x="2208" dy="16.25">的新判决并不实际执行的制度。在日本，非常</tspan><tspan x="2208" dy="16.25">上告是以违反法律为理由请求撤销已经确定的</tspan><tspan x="2208" dy="16.25">判决或者该诉讼程序，其目的是统一解释法律</tspan><tspan x="2208" dy="16.25">。检察总长在判决确定之后发现该案件的审理</tspan><tspan x="2208" dy="16.25">违反法律时，可以向最高法院提出非常上告。</tspan><tspan x="2208" dy="16.25">法律解释有错误而不利于被告人时，可以撤销</tspan><tspan x="2208" dy="16.25">不利于被告人的判决，因此非常上告具有救济</tspan><tspan x="2208" dy="16.25">被告人的机能。非常上告的判决，除《日本刑</tspan><tspan x="2208" dy="16.25">事诉讼法》第458条第1项但书规定的情况（</tspan><tspan x="2208" dy="16.25">指原判决不利于被告人的撤销原判决，对案件</tspan><tspan x="2208" dy="16.25">重新作出判决）以外，其效力不及于被告人。</tspan><tspan x="2208" dy="16.25">（注：参见［日］田口守一：《刑事诉讼法》</tspan><tspan x="2208" dy="16.25">，刘迪等译，法律出版社2000年版，第323-</tspan><tspan x="2208" dy="16.25">324页。）</tspan></text></g>

<g id="nY"><rect class="ob" x="2202" y="3756" width="247" height="27" rx="5"/><text class="t" x="2208" y="3775">出处：《法商研究》（武汉）2004年03期</text></g>

<g id="watermark">
<text class="wm" text-anchor="middle" transform="translate(630,490) rotate(-29)">树图 shutu.cn</text>
<text class="wm" text-anchor="middle" transform="translate(640,1540) rotate(-29)">树图 shutu.cn</text>
<text class="wm" text-anchor="middle" transform="translate(640,2530) rotate(-29)">树图 shutu.cn</text>
<text class="wm" text-anchor="middle" transform="translate(640,3560) rotate(-29)">树图 shutu.cn</text>
<text class="wm" text-anchor="middle" transform="translate(1920,490) rotate(-29)">树图 shutu.cn</text>
<text class="wm" text-anchor="middle" transform="translate(1920,1510) rotate(-29)">树图 shutu.cn</text>
<text class="wm" text-anchor="middle" transform="translate(1920,2530) rotate(-29)">树图 shutu.cn</text>
<text class="wm" text-anchor="middle" transform="translate(1920,3480) rotate(-29)">树图 shutu.cn</text>
</g>
</svg>
